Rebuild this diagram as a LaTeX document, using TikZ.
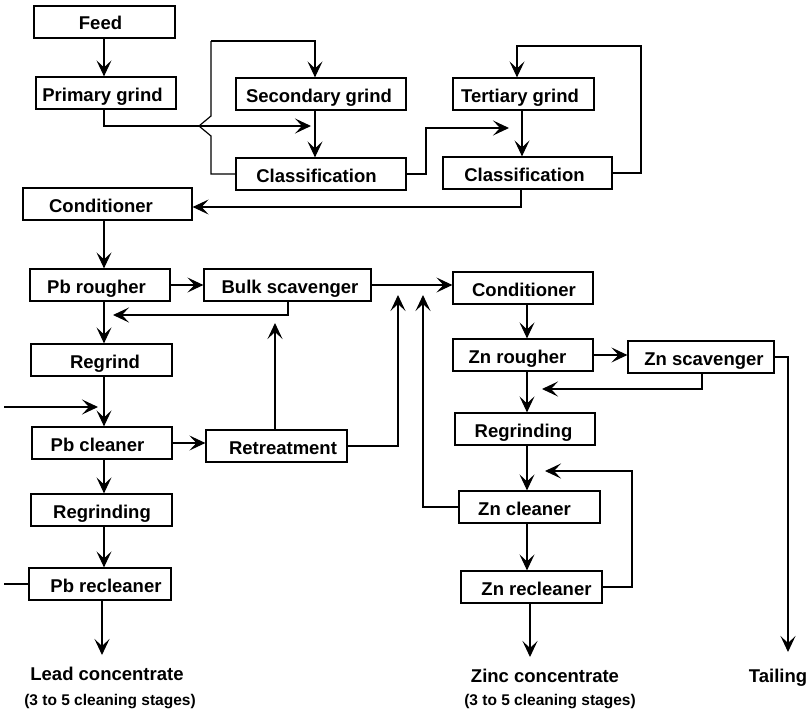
\documentclass[tikz,border=0pt]{standalone}
\usepackage{fontspec}
\setmainfont{Liberation Sans}
\usetikzlibrary{arrows.meta}
\newcommand\pbox[7]{%
  \node[box, minimum width=#4pt, minimum height=#5pt] (#1) at (#2,#3) {};
  \node[lbl] (#1t) at (#6,#3+8) {#7};}
\begin{document}
\begin{tikzpicture}[x=1pt,y=-1pt,
  box/.style={draw, line width=1.2pt, inner sep=0pt, rectangle},
  lbl/.style={font=\fontsize{18.5}{20}\selectfont\bfseries, inner sep=0pt, anchor=base},
  sub/.style={font=\fontsize{15.5}{17}\selectfont\bfseries, inner sep=0pt, anchor=base},
  con/.style={draw, line width=1.2pt},
  arr/.style={con, -{Stealth[length=16pt,width=15pt,inset=7pt]}},
]
\useasboundingbox (0,0) rectangle (809,712);
% boxes: name, cx, cy, w, h, text x, text
\pbox{feed}{104.5}{22}{141}{32}{100.5}{Feed}
\pbox{prim}{106}{93}{140}{32}{102.5}{Primary grind}
\pbox{sec}{321}{94}{170}{32}{319}{Secondary grind}
\pbox{cls1}{321}{174}{170}{32}{316.5}{Classification}
\pbox{cond1}{107.5}{204}{169}{32}{101}{Conditioner}
\pbox{ter}{523.5}{94}{141}{32}{520}{Tertiary grind}
\pbox{cls2}{527.5}{173}{169}{32}{524.5}{Classification}
\pbox{pbr}{100}{285}{140}{32}{96.5}{Pb rougher}
\pbox{bulk}{287.5}{285}{167}{32}{290}{Bulk scavenger}
\pbox{regr}{101.5}{360}{141}{32}{105}{Regrind}
\pbox{pbc}{102}{443}{140}{32}{97.5}{Pb cleaner}
\pbox{ret}{276.5}{446}{141}{32}{283}{Retreatment}
\pbox{cond2}{523}{288}{140}{32}{524}{Conditioner}
\pbox{znr}{523}{355}{140}{32}{517.5}{Zn rougher}
\pbox{zns}{701}{357}{146}{32}{704}{Zn scavenger}
\pbox{regz}{525}{429}{140}{32}{523.5}{Regrinding}
\pbox{znc}{529.5}{507}{141}{32}{524.5}{Zn cleaner}
\pbox{znrc}{531.5}{587}{141}{32}{536.5}{Zn recleaner}
\pbox{regp}{101.5}{510}{141}{32}{102}{Regrinding}
\pbox{pbrc}{100}{584}{142}{32}{106}{Pb recleaner}
% outputs
\node[lbl] (lead) at (107,680) {Lead concentrate};
\node[sub] (leadsub) at (110,705) {(3 to 5 cleaning stages)};
\node[lbl] (zinc) at (545,682) {Zinc concentrate};
\node[sub] (zincsub) at (550,705) {(3 to 5 cleaning stages)};
\node[lbl] (tail) at (778,682) {Tailing};
% helper coordinates
\coordinate (xP) at (104,0);
\coordinate (xS) at (315,0);
\coordinate (xT) at (522,0);
\coordinate (xZ) at (527,0);
\coordinate (bTop) at (211,41);
\coordinate (bU) at (211,116);
\coordinate (bJ) at (199,126);
\coordinate (bD) at (211,136);
\coordinate (tipB) at (311,126);
\coordinate (e1) at (426,128);
\coordinate (tipE) at (509,128);
\coordinate (gR) at (641,46);
\coordinate (gL) at (517,46);
\coordinate (hB) at (521,207);
\coordinate (kB) at (288,315);
\coordinate (kT) at (113,315);
\coordinate (nS) at (4,407);
\coordinate (nT) at (98,407);
\coordinate (pX) at (275,323);
\coordinate (qT) at (398,295);
\coordinate (sT) at (423,295);
\coordinate (vB) at (702,389);
\coordinate (vT) at (542,389);
\coordinate (wT) at (788,652);
\coordinate (aR) at (632,471);
\coordinate (aT) at (545,471);
\coordinate (zB) at (530,657);
\coordinate (eS) at (4,584);
\coordinate (lB) at (102,655);
% connectors
\draw[arr] (feed.south -| xP) -- (prim.north -| xP);
\draw[arr] (prim.south -| xP) |- (tipB);
\draw[con] (cls1.west) -- (cls1.west -| bD) -- (bD) -- (bJ) -- (bU) -- (bTop);
\draw[arr] (bTop) -- (bTop -| xS) -- (sec.north -| xS);
\draw[arr] (sec.south -| xS) -- (cls1.north -| xS);
\draw[arr] (cls1.east) -| (e1) -- (tipE);
\draw[arr] (ter.south -| xT) -- (cls2.north -| xT);
\draw[arr] (cls2.east) -| (gR) -- (gL) -- (gL |- ter.north);
\draw[arr] (hB |- cls2.south) -- (hB) -- (hB -| cond1.east);
\draw[arr] (cond1.south -| xP) -- (pbr.north -| xP);
\draw[arr] (pbr.east) -- (pbr.east -| bulk.west);
\draw[arr] (kB |- bulk.south) -- (kB) -- (kT);
\draw[arr] (pbr.south -| xP) -- (regr.north -| xP);
\draw[arr] (regr.south -| xP) -- (pbc.north -| xP);
\draw[arr] (nS) -- (nT);
\draw[arr] (pbc.east) -- (pbc.east -| ret.west);
\draw[arr] (pX |- ret.north) -- (pX);
\draw[arr] (ret.east) -| (qT);
\draw[arr] (bulk.east) -- (bulk.east -| cond2.west);
\draw[arr] (znc.west) -| (sT);
\draw[arr] (cond2.south -| xZ) -- (znr.north -| xZ);
\draw[arr] (znr.east) -- (znr.east -| zns.west);
\draw[arr] (vB |- zns.south) -- (vB) -- (vT);
\draw[arr] (zns.east) -| (wT);
\draw[arr] (znr.south -| xZ) -- (regz.north -| xZ);
\draw[arr] (regz.south -| xZ) -- (znc.north -| xZ);
\draw[arr] (znc.south -| xZ) -- (znrc.north -| xZ);
\draw[arr] (znrc.east) -| (aR) -- (aT);
\draw[arr] (zB |- znrc.south) -- (zB);
\draw[arr] (pbc.south -| xP) -- (regp.north -| xP);
\draw[arr] (regp.south -| xP) -- (pbrc.north -| xP);
\draw[con] (eS) -- (eS -| pbrc.west);
\draw[arr] (lB |- pbrc.south) -- (lB);
\end{tikzpicture}
\end{document}
